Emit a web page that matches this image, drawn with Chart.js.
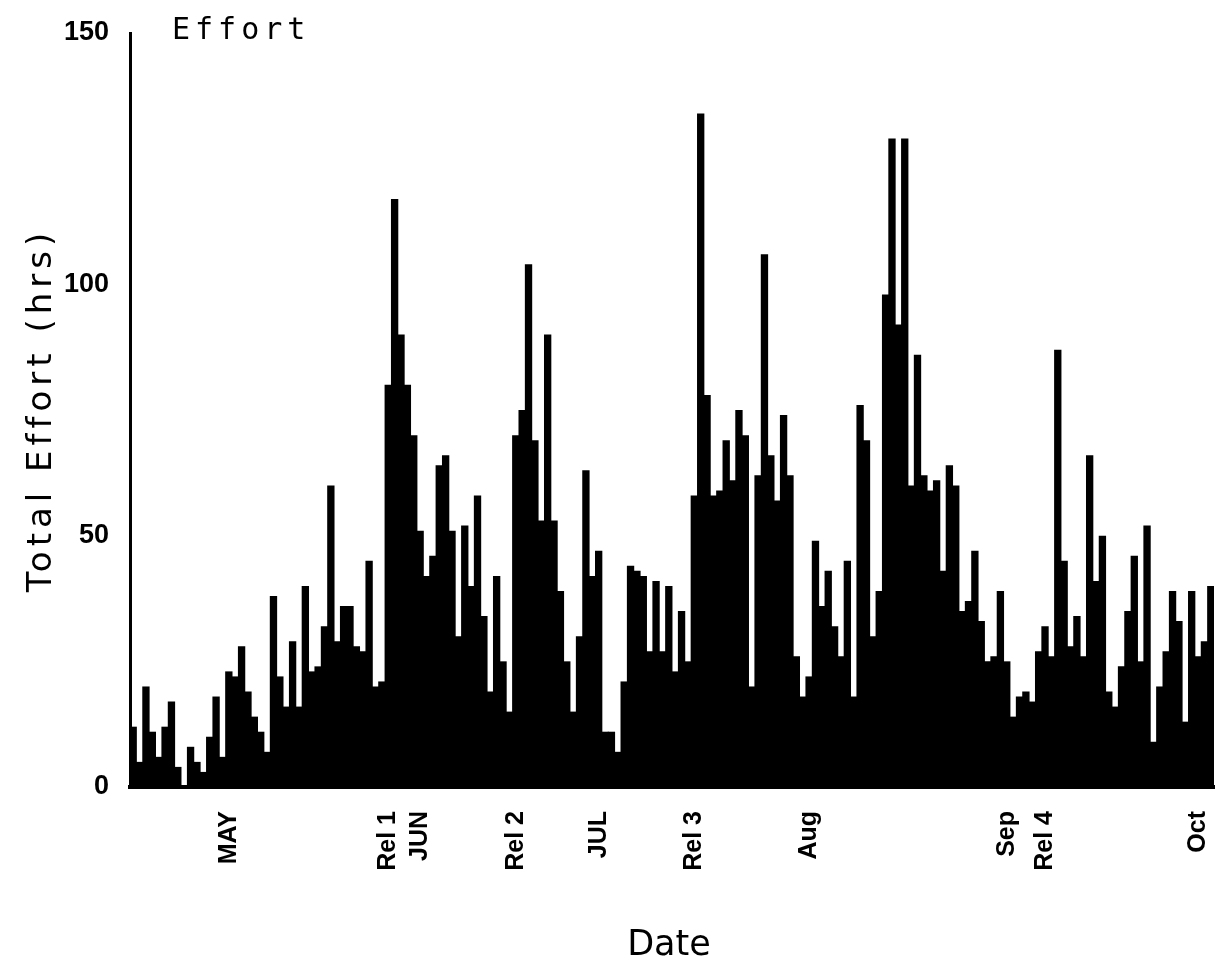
<!DOCTYPE html>
<html>
<head>
<meta charset="utf-8">
<script src="https://cdn.jsdelivr.net/npm/chart.js@4.4.1/dist/chart.umd.min.js"></script>
<style>
  html, body { margin: 0; padding: 0; background: #fff; }
</style>
</head>
<body>
<canvas id="chart" width="1222" height="979"></canvas>
<script>
// daily effort (hrs), one bar per day
const effort = [
  12, 5, 20, 11, 6, 12, 17, 4, 0, 8,
  5, 3, 10, 18, 6, 23, 22, 28, 19, 14,
  11, 7, 38, 22, 16, 29, 16, 40, 23, 24,
  32, 60, 29, 36, 36, 28, 27, 45, 20, 21,
  80, 117, 90, 80, 70, 51, 42, 46, 64, 66,
  51, 30, 52, 40, 58, 34, 19, 42, 25, 15,
  70, 75, 104, 69, 53, 90, 53, 39, 25, 15,
  30, 63, 42, 47, 11, 11, 7, 21, 44, 43,
  42, 27, 41, 27, 40, 23, 35, 25, 58, 134,
  78, 58, 59, 69, 61, 75, 70, 20, 62, 106,
  66, 57, 74, 62, 26, 18, 22, 49, 36, 43,
  32, 26, 45, 18, 76, 69, 30, 39, 98, 129,
  92, 129, 60, 86, 62, 59, 61, 43, 64, 60,
  35, 37, 47, 33, 25, 26, 39, 25, 14, 18,
  19, 17, 27, 32, 26, 87, 45, 28, 34, 26,
  66, 41, 50, 19, 16, 24, 35, 46, 25, 52,
  9, 20, 27, 39, 33, 13, 39, 26, 29, 40
];

// labels under the x axis and the day they sit on
const tickText = ['MAY', 'Rel 1', 'JUN', 'Rel 2', 'JUL', 'Rel 3', 'Aug', 'Sep', 'Rel 4', 'Oct'];
const tickDay = [15, 40, 45, 60, 73, 88, 106, 137, 143, 167];

const yTicks = [0, 50, 100, 150];

const days = effort.map((v, i) => 'day ' + (i + 1));

const titles = {
  id: 'titles',
  afterDraw(chart) {
    const ctx = chart.ctx;
    ctx.save();
    ctx.fillStyle = '#000';
    ctx.textBaseline = 'middle';

    ctx.font = '30px "DejaVu Sans Mono"';
    ctx.letterSpacing = '5px';
    ctx.textAlign = 'left';
    ctx.fillText('Effort', 172, 31);

    ctx.letterSpacing = '0px';
    ctx.font = '35px "DejaVu Sans"';
    ctx.textAlign = 'center';
    ctx.fillText('Date', 669, 946);

    ctx.translate(42, 410);
    ctx.rotate(-Math.PI / 2);
    ctx.font = '34px "DejaVu Sans"';
    ctx.letterSpacing = '5px';
    ctx.fillText('Total Effort (hrs)', 0, 0);
    ctx.restore();
  }
};

new Chart(document.getElementById('chart'), {
  type: 'bar',
  data: {
    labels: days,
    datasets: [{
      data: effort,
      backgroundColor: '#000',
      borderWidth: 0,
      barPercentage: 1.15,
      categoryPercentage: 1
    }]
  },
  options: {
    responsive: false,
    animation: false,
    layout: { padding: { top: 33, right: 8, left: 0, bottom: 0 } },
    plugins: { legend: { display: false }, tooltip: { enabled: false } },
    scales: {
      x: {
        grid: { display: false, drawTicks: false },
        border: { color: '#000', width: 4 },
        ticks: {
          autoSkip: false,
          maxRotation: 90,
          minRotation: 90,
          padding: 24,
          color: '#000',
          font: { family: 'Liberation Sans', size: 25, weight: 'bold' },
          callback: (v, i) => {
            const k = tickDay.indexOf(i);
            return k >= 0 ? tickText[k] : '';
          }
        },
        afterFit: s => { s.height = 192; s.paddingLeft = 0; s.paddingRight = 0; }
      },
      y: {
        min: 0,
        max: 150,
        afterBuildTicks: s => { s.ticks = yTicks.map(v => ({ value: v })); },
        grid: { display: false, drawTicks: false },
        border: { color: '#000', width: 3 },
        ticks: {
          padding: 21,
          color: '#000',
          font: { family: 'Liberation Sans', size: 27, weight: 'bold' }
        },
        afterFit: s => { s.width = 130; s.paddingTop = 0; s.paddingBottom = 0; }
      }
    }
  },
  plugins: [titles]
});
</script>
</body>
</html>
